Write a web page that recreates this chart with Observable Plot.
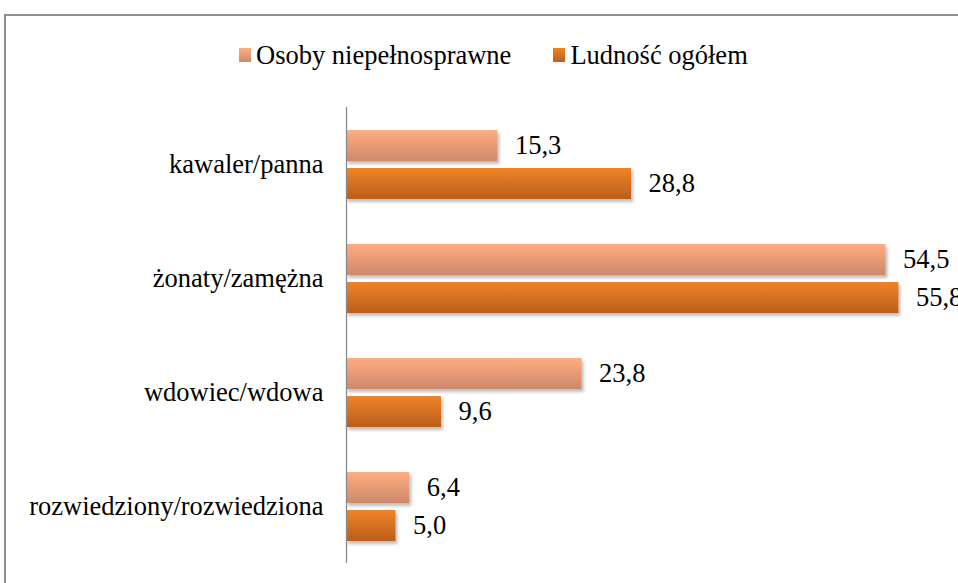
<!DOCTYPE html>
<html>
<head>
<meta charset="utf-8">
<script src="https://cdn.jsdelivr.net/npm/d3@7"></script>
<script src="https://cdn.jsdelivr.net/npm/@observablehq/plot@0.6"></script>
<style>
  html, body { margin: 0; padding: 0; background: #fff; }
  body { width: 958px; height: 583px; overflow: hidden; position: relative; font-family: "Liberation Serif", "Times New Roman", serif; }
  #frame { position: absolute; left: 4px; top: 14px; width: 1000px; height: 1000px; border: 2px solid #8f8f8f; box-sizing: border-box; pointer-events: none; }
  #legend { position: absolute; left: 239px; top: 40px; height: 30px; display: flex; align-items: center; font-size: 26.5px; color: #000; white-space: nowrap; }
  .item { display: flex; align-items: center; margin-right: 42px; }
  .sw { width: 12px; height: 14px; margin-right: 5px; }
  #chart { position: absolute; left: 0; top: 90px; }
</style>
</head>
<body>
<div id="legend"></div>
<div id="chart"></div>
<div id="frame"></div>
<script>
const categories = ["kawaler/panna", "żonaty/zamężna", "wdowiec/wdowa", "rozwiedziony/rozwiedziona"];
const series = ["Osoby niepełnosprawne", "Ludność ogółem"];
const disabled = [15.3, 54.5, 23.8, 6.4];
const total = [28.8, 55.8, 9.6, 5.0];
const seriesFill = ["url(#gLight)", "url(#gDark)"];
const swatchCss = ["linear-gradient(#ffad81, #cd896b)", "linear-gradient(#f08329, #bb5e1c)"];

const rows = [];
categories.forEach((c, i) => {
  rows.push({category: c, series: series[0], value: disabled[i], fill: seriesFill[0]});
  rows.push({category: c, series: series[1], value: total[i], fill: seriesFill[1]});
});
const fmt = v => v.toFixed(1).replace(".", ",");
const serif = "'Liberation Serif', 'Times New Roman', serif";

const chart = Plot.plot({
  width: 958,
  height: 493,
  marginLeft: 346,
  marginRight: 18,
  marginTop: 16,
  marginBottom: 20,
  style: {fontFamily: serif, fontSize: "26.5px", color: "#000", background: "transparent", overflow: "visible"},
  x: {domain: [0, 60], axis: null},
  y: {domain: series, axis: null, paddingInner: 0.19, paddingOuter: 0.58},
  fy: {domain: categories, padding: 0, axis: "left", label: null, tickSize: 0, tickPadding: 23},
  color: {type: "identity"},
  marks: [
    Plot.barX(rows, {x: "value", y: "series", fy: "category", fill: "fill"}),
    Plot.ruleX([0], {stroke: "#8a8a8a", strokeWidth: 1.3}),
    Plot.text(rows, {x: "value", y: "series", fy: "category", text: d => fmt(d.value), dx: 17, textAnchor: "start", fontSize: 26.5, fontFamily: serif, fill: "#000"})
  ]
});

const svg = d3.select(chart);
svg.insert("defs", ":first-child").html(`
  <linearGradient id="gLight" x1="0" y1="0" x2="0" y2="1">
    <stop offset="0" stop-color="#ffad81"/><stop offset="1" stop-color="#cd896b"/>
  </linearGradient>
  <linearGradient id="gDark" x1="0" y1="0" x2="0" y2="1">
    <stop offset="0" stop-color="#f08329"/><stop offset="1" stop-color="#bb5e1c"/>
  </linearGradient>
  <filter id="shadow" x="-5%" y="-20%" width="115%" height="160%">
    <feDropShadow dx="2" dy="3" stdDeviation="1.8" flood-color="#000" flood-opacity="0.25"/>
  </filter>`);
svg.selectAll("g[aria-label='bar'] rect").attr("filter", "url(#shadow)");
document.getElementById("chart").appendChild(chart);

const legend = d3.select("#legend");
series.forEach((s, i) => {
  const it = legend.append("div").attr("class", "item");
  it.append("div").attr("class", "sw").style("background", swatchCss[i]);
  it.append("span").text(s);
});
</script>
</body>
</html>
